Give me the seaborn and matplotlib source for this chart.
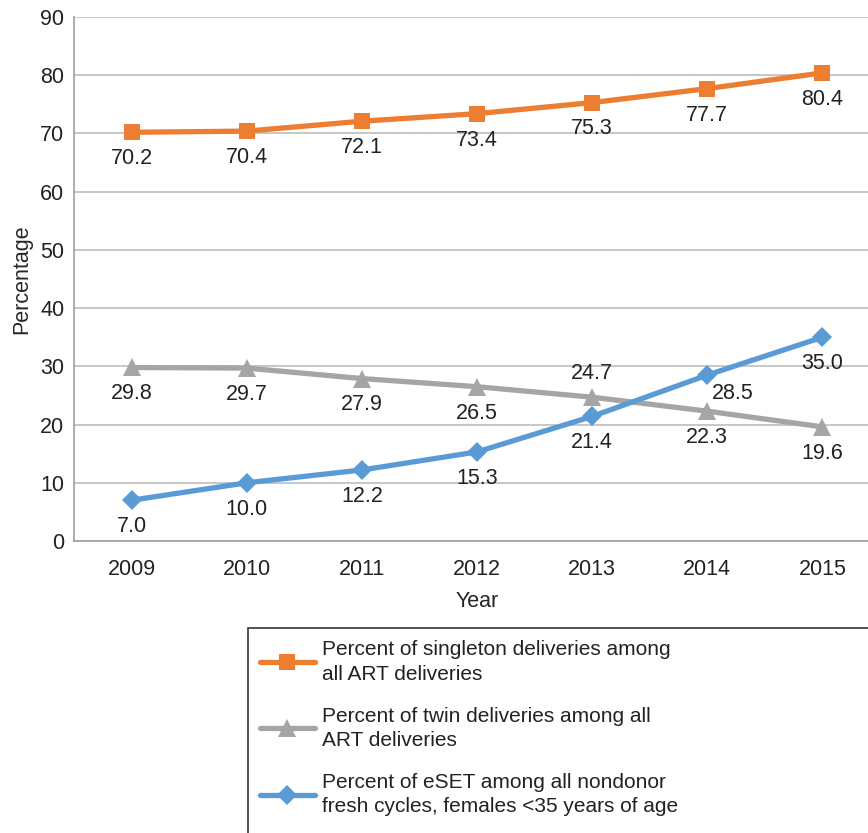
import pandas as pd
import seaborn as sns
import matplotlib.pyplot as plt
from matplotlib.patches import Rectangle
from matplotlib.ticker import FixedLocator

# data
years = [2009, 2010, 2011, 2012, 2013, 2014, 2015]
singleton = [70.2, 70.4, 72.1, 73.4, 75.3, 77.7, 80.4]
twin = [29.8, 29.7, 27.9, 26.5, 24.7, 22.3, 19.6]
eset = [7.0, 10.0, 12.2, 15.3, 21.4, 28.5, 35.0]

labels = [
    'Percent of singleton deliveries among\nall ART deliveries',
    'Percent of twin deliveries among all\nART deliveries',
    'Percent of eSET among all nondonor\nfresh cycles, females <35 years of age',
]
colors = ['#ED7D31', '#A5A5A5', '#5B9BD5']
markers = ['s', '^', 'D']
msizes = [12, 13, 10]

sns.set_style('white')
plt.rcParams['font.family'] = ['Liberation Sans', 'DejaVu Sans']
plt.rcParams['text.color'] = '#222222'
FS = 15.5

fig = plt.figure(figsize=(8.68, 8.33), dpi=100)
ax = fig.add_axes([74 / 868, 1 - 541 / 833, 806 / 868, 524 / 833])

series = [singleton, twin, eset]
for vals, lab, c, m, ms in zip(series, labels, colors, markers, msizes):
    df = pd.DataFrame({'Year': years, 'Percentage': vals})
    sns.lineplot(data=df, x='Year', y='Percentage', ax=ax, color=c, lw=3.8,
                 marker=m, markersize=ms, markeredgewidth=0, label=lab)

# value labels (offset in points: below unless noted)
def put(xs, vals, offsets):
    for x, v, (dx, dy) in zip(xs, vals, offsets):
        ax.annotate(f'{v:.1f}', (x, v), xytext=(dx, dy), textcoords='offset points',
                    ha='center', va='center', fontsize=FS, color='#222222')

below = (0, -19)
put(years, singleton, [below] * 7)
put(years, twin, [below, below, below, below, (0, 17), below, below])
put(years, eset, [below, below, below, below, below, (18, -13), below])

ax.set_ylim(0, 90)
ax.set_yticks(range(0, 91, 10))
ax.set_xlim(2008.5, 2015.5)
ax.set_xticks(years)
ax.xaxis.set_minor_locator(FixedLocator([y + 0.5 for y in range(2008, 2016)]))
ax.tick_params(axis='x', which='major', length=0, pad=13, labelsize=FS, labelcolor='#222222')
ax.tick_params(axis='x', which='minor', length=7, width=1, color='#A0A0A0', direction='out')
ax.tick_params(axis='y', length=0, pad=7, labelsize=FS, labelcolor='#222222')
ax.yaxis.grid(True, color='#BDBDBD', lw=1.2)
ax.set_axisbelow(True)
for s in ['top', 'right']:
    ax.spines[s].set_visible(False)
for s in ['left', 'bottom']:
    ax.spines[s].set_color('#A0A0A0')
    ax.spines[s].set_linewidth(1.2)

ax.set_xlabel('Year', fontsize=FS, labelpad=8)
ax.set_ylabel('Percentage', fontsize=FS, labelpad=6)

# legend box runs off the right and bottom edges of the picture
leg = ax.legend(loc='upper left', bbox_to_anchor=(250 / 868, 1 - 630 / 833),
                bbox_transform=fig.transFigure, fontsize=15, frameon=False,
                handlelength=2.6, labelspacing=1.1, borderpad=0.5,
                handletextpad=0.35, borderaxespad=0)
for t in leg.get_texts():
    t.set_linespacing(1.35)
fig.patches.append(Rectangle((248 / 868, -0.2), 1.0, 0.2 + 1 - 628 / 833,
                             transform=fig.transFigure, fill=False,
                             edgecolor='#333333', lw=1.2))

fig.savefig('out.png', dpi=100)
